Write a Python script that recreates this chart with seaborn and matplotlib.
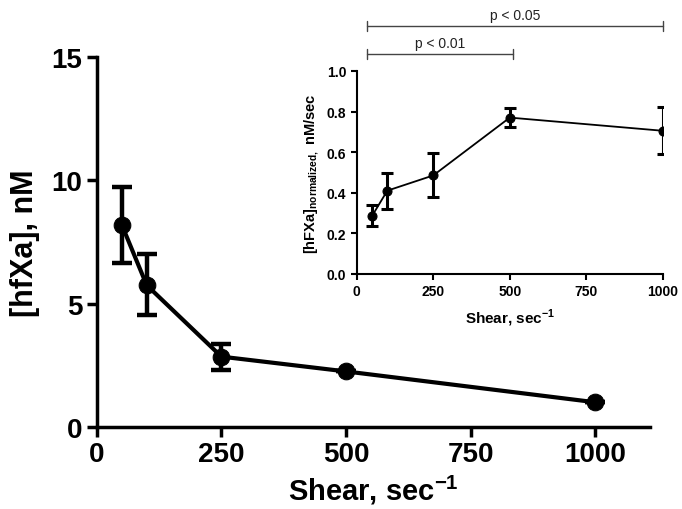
import matplotlib
matplotlib.use("Agg")
import matplotlib.pyplot as plt
import seaborn as sns
import pandas as pd

# main panel: [hfXa] vs shear
shear = [50, 100, 250, 500, 1000]
hfxa = [8.2, 5.75, 2.85, 2.25, 1.0]
hfxa_lo = [6.65, 4.55, 2.3, 2.25, 1.0]
hfxa_hi = [9.75, 7.0, 3.35, 2.25, 1.0]

# inset: normalized rate vs shear
rate = [0.285, 0.41, 0.485, 0.77, 0.705]
rate_lo = [0.235, 0.32, 0.38, 0.725, 0.59]
rate_hi = [0.34, 0.495, 0.595, 0.815, 0.82]

main_xticks = [0, 250, 500, 750, 1000]
main_yticks = [0, 5, 10, 15]
inset_yticks = [0.0, 0.2, 0.4, 0.6, 0.8, 1.0]

sns.set_style("ticks")
plt.rcParams['font.family'] = ['Liberation Sans', 'DejaVu Sans']
plt.rcParams['font.weight'] = 'bold'
plt.rcParams['mathtext.fontset'] = 'custom'
plt.rcParams['mathtext.rm'] = 'Liberation Sans:bold'
plt.rcParams['mathtext.bf'] = 'Liberation Sans:bold'
for k in ['axes.edgecolor', 'xtick.color', 'ytick.color', 'text.color', 'axes.labelcolor']:
    plt.rcParams[k] = 'black'

df = pd.DataFrame({"shear": shear, "hfxa": hfxa, "rate": rate})

fig = plt.figure(figsize=(6.82, 5.10), dpi=100)
ax = fig.add_axes([0.142, 0.161, 0.811, 0.725])

sns.lineplot(data=df, x="shear", y="hfxa", ax=ax, color="black", lw=3,
             marker="o", markersize=12, markeredgecolor="black")
yerr = [[v - l for v, l in zip(hfxa, hfxa_lo)], [h - v for v, h in zip(hfxa, hfxa_hi)]]
ax.errorbar(shear, hfxa, yerr=yerr, fmt="none", ecolor="black",
            elinewidth=3.2, capsize=7, capthick=3.2)
ax.set_xlim(0, 1110)
ax.set_ylim(0, 15)
ax.set_xticks(main_xticks)
ax.set_yticks(main_yticks)
ax.tick_params(labelsize=20, width=2.5, length=7)
for lab in ax.get_xticklabels() + ax.get_yticklabels():
    lab.set_fontweight("bold")
ax.set_xlabel("Shear, sec$^{\\mathbf{-1}}$", fontsize=21, fontweight="bold", labelpad=4)
ax.set_ylabel("[hfXa], nM", fontsize=22, fontweight="bold", labelpad=8)
for s in ["left", "bottom"]:
    ax.spines[s].set_linewidth(2.5)
sns.despine(ax=ax)

# inset
ins = fig.add_axes([0.523, 0.461, 0.449, 0.398])
sns.lineplot(data=df, x="shear", y="rate", ax=ins, color="black", lw=1.3,
             marker="o", markersize=6.5, markeredgecolor="black")
ierr = [[v - l for v, l in zip(rate, rate_lo)], [h - v for v, h in zip(rate, rate_hi)]]
ins.errorbar(shear, rate, yerr=ierr, fmt="none", ecolor="black",
             elinewidth=2.2, capsize=4.5, capthick=2.2)
ins.set_xlim(0, 1000)
ins.set_ylim(0, 1.0)
ins.set_xticks(main_xticks)
ins.set_yticks(inset_yticks)
ins.set_yticklabels([f"{v:.1f}" for v in inset_yticks])
ins.tick_params(labelsize=10, width=1.5, length=4)
for lab in ins.get_xticklabels() + ins.get_yticklabels():
    lab.set_fontweight("bold")
ins.set_xlabel("Shear, sec$^{\\mathbf{-1}}$", fontsize=11, fontweight="bold", labelpad=6)
ins.set_ylabel(r"[hFXa]$_{\mathbf{normalized,}}$ nM/sec", fontsize=10.5, fontweight="bold")
for s in ["left", "bottom"]:
    ins.spines[s].set_linewidth(1.5)
sns.despine(ax=ins)

# significance brackets
brackets = [(35, 510, 1.085, "p < 0.01"), (35, 1000, 1.22, "p < 0.05")]
for x0, x1, yb, txt in brackets:
    ins.plot([x0, x1], [yb, yb], color="#444444", lw=1, clip_on=False)
    for xx in (x0, x1):
        ins.plot([xx, xx], [yb - 0.025, yb + 0.025], color="#444444", lw=1, clip_on=False)
    ins.text((x0 + x1) / 2, yb + 0.02, txt, ha="center", va="bottom",
             fontsize=10, fontweight="normal", color="#222222")

fig.savefig("out.png", dpi=100)
